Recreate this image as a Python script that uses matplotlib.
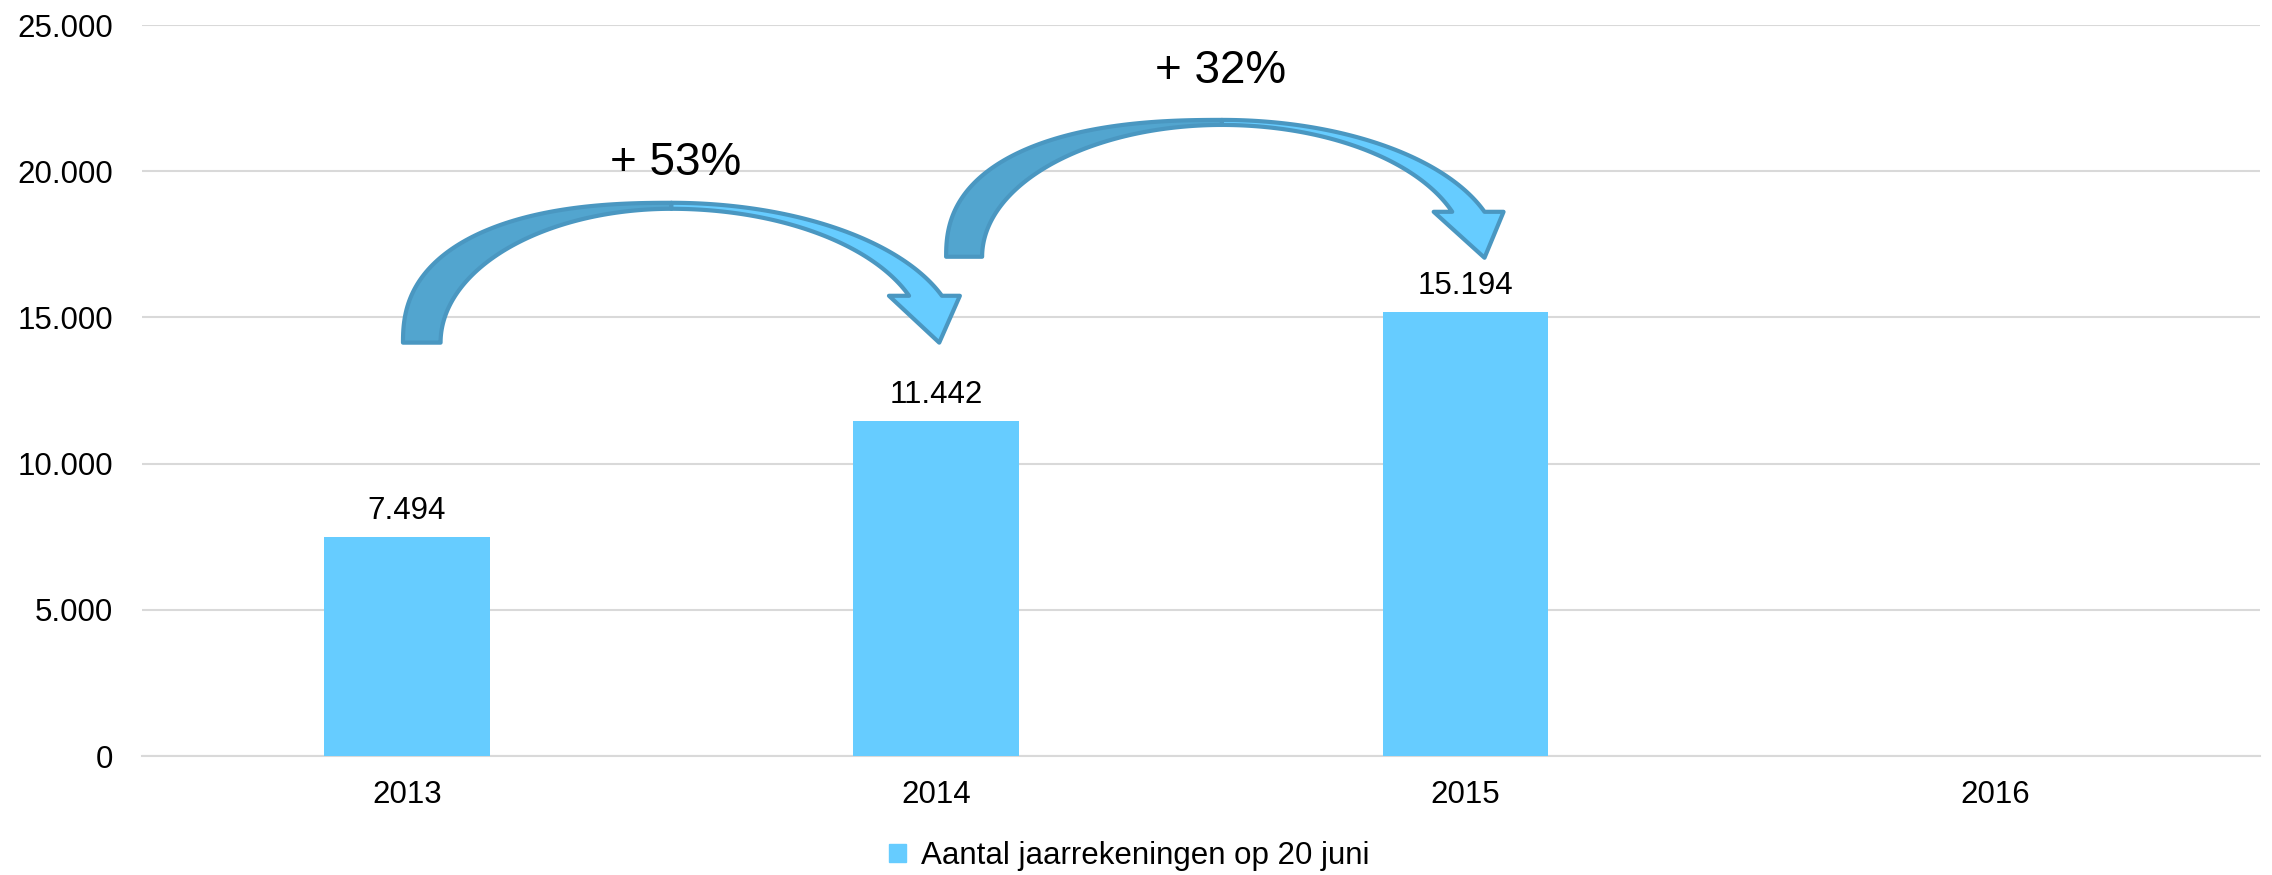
import numpy as np
import matplotlib
matplotlib.use("Agg")
import matplotlib.pyplot as plt
from matplotlib.patches import Polygon, Patch

plt.rcParams['font.family'] = ['Liberation Sans', 'DejaVu Sans']

years = ['2013', '2014', '2015', '2016']
counts = [7494, 11442, 15194, None]
series_name = 'Aantal jaarrekeningen op 20 juni'
growth_labels = ['+ 53%', '+ 32%']
y_ticks = [0, 5000, 10000, 15000, 20000, 25000]

BAR = '#66CCFF'
DARK = '#52A5CF'
EDGE = '#4A97C1'
GRID = '#D9D9D9'


def fmt(v):
	return f"{v:,}".replace(",", ".")


def arc(xc, yb, a, b, n, t):
	# superellipse quarter: n=2 is a plain ellipse, bigger n is squarer
	c, s = np.cos(t), np.sin(t)
	return np.c_[xc + a * np.sign(c) * np.abs(c) ** (2 / n), yb + b * np.abs(s) ** (2 / n)]


def t_at(yh, yb, b, n):
	return np.arcsin(((yh - yb) / b) ** (n / 2))


def x_scale(xs, xc, yh, yb, b, n):
	Y = (yh - yb) / b
	return (xs - xc) / (1 - Y ** n) ** (1 / n)


def curved_arrow(ax, a):
	xp, yb = a['xp'], a['yb']
	bo, bi = a['top_o'] - yb, a['top_i'] - yb
	# back half (dark), base up to the top
	t = np.linspace(np.pi, np.pi / 2, 80)
	outer = arc(xp, yb, xp - a['x0o'], bo, 2.4, t)
	inner = arc(xp, yb, xp - a['x0i'], bi, 2.0, t[::-1])
	ax.add_patch(Polygon(np.vstack([outer, inner]), closed=True, fc=DARK, ec=EDGE,
						 lw=3, joinstyle='round', zorder=4))
	# front half (light) with the head
	aro = x_scale(a['xso'], xp, a['yh'], yb, bo, 2.0)
	ari = x_scale(a['xsi'], xp, a['yh'], yb, bi, 2.0)
	to = np.linspace(np.pi / 2, t_at(a['yh'], yb, bo, 2.0), 80)
	ti = np.linspace(t_at(a['yh'], yb, bi, 2.0), np.pi / 2, 80)
	outer_r = arc(xp, yb, aro, bo, 2.0, to)
	inner_r = arc(xp, yb, ari, bi, 2.0, ti)
	head = np.array([[a['barb_r'], a['yh']], a['tip'], [a['barb_l'], a['yh']]])
	ax.add_patch(Polygon(np.vstack([outer_r, head, inner_r]), closed=True, fc=BAR, ec=EDGE,
						 lw=3, joinstyle='round', zorder=5))


arrows = [
	dict(x0o=-0.007, x0i=0.064, yb=14137, xp=0.500, top_o=18920, top_i=18715,
		 yh=15740, xso=1.011, xsi=0.949, barb_l=0.911, barb_r=1.045, tip=(1.006, 14137)),
	dict(x0o=1.019, x0i=1.087, yb=17075, xp=1.540, top_o=21755, top_i=21583,
		 yh=18612, xso=2.036, xsi=1.975, barb_l=1.940, barb_r=2.072, tip=(2.036, 17040)),
]
growth_pos = [(0.508, 19875), (1.538, 23017)]


def plot():
	fig = plt.figure(figsize=(22.72, 8.75), dpi=100)
	ax = fig.add_axes([0.0625, 0.136, 0.932, 0.8354])

	x = np.arange(len(years))
	for i, v in enumerate(counts):
		if v is None:
			continue
		ax.bar(x[i], v, width=0.313, color=BAR, zorder=3)
		ax.annotate(fmt(v), (x[i], v), xytext=(0, 13), textcoords='offset points',
					ha='center', va='baseline', fontsize=22.5)

	for a in arrows:
		curved_arrow(ax, a)
	for lab, (px, py) in zip(growth_labels, growth_pos):
		ax.text(px, py, lab, ha='center', va='baseline', fontsize=33, zorder=6)

	ax.set_xlim(-0.5, len(years) - 0.5)
	ax.set_ylim(0, 25000)
	ax.set_xticks(x)
	ax.set_xticklabels(years)
	ax.set_yticks(y_ticks)
	ax.set_yticklabels([fmt(v) for v in y_ticks])
	ax.tick_params(axis='both', length=0, labelsize=22.5)
	ax.tick_params(axis='y', pad=21)
	ax.tick_params(axis='x', pad=17)
	ax.grid(axis='y', color=GRID, lw=1.5, zorder=0)
	ax.set_axisbelow(True)
	for s in ['left', 'right', 'top']:
		ax.spines[s].set_visible(False)
	ax.spines['bottom'].set_color(GRID)
	ax.spines['bottom'].set_linewidth(1.5)

	fig.legend(handles=[Patch(color=BAR, label=series_name)], loc='center',
			   bbox_to_anchor=(0.497, 0.0217), frameon=False, fontsize=22.5,
			   handlelength=0.55, handleheight=0.55, handletextpad=0.5)
	fig.savefig("out.png", dpi=100)


if __name__ == "__main__":
	plot()
